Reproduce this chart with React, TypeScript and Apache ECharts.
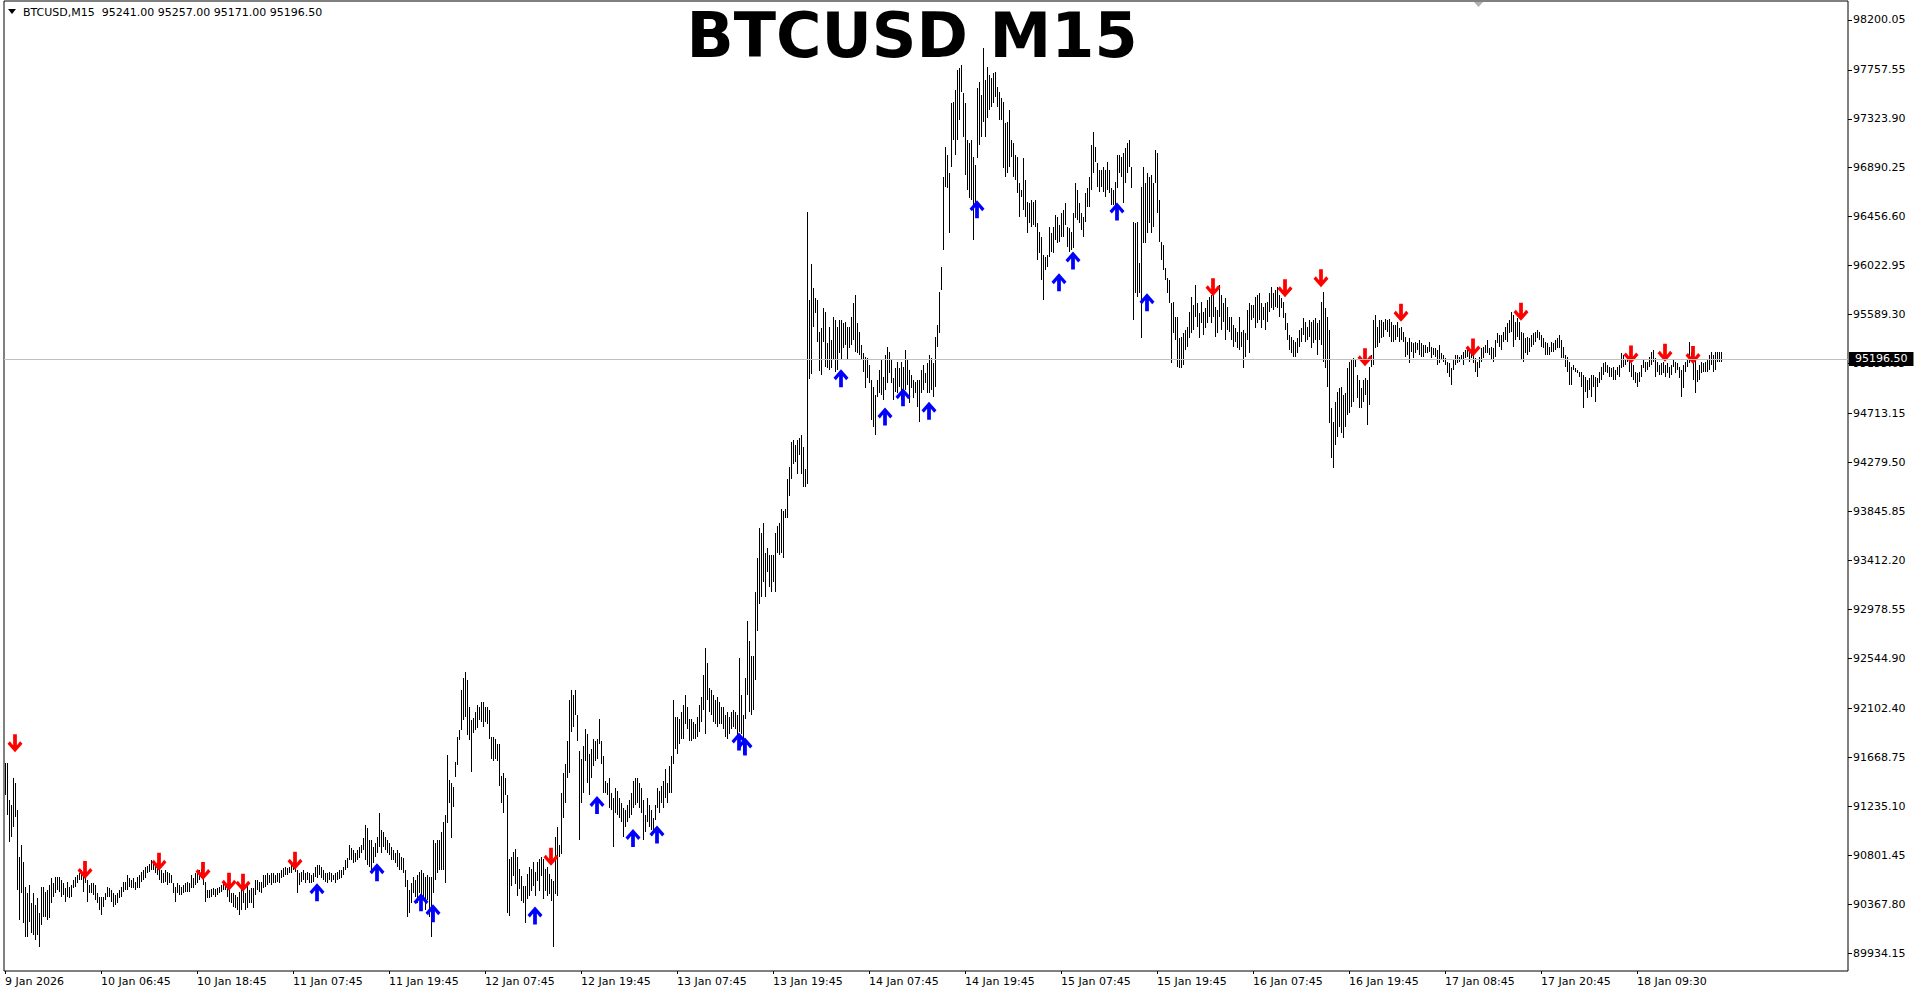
import React, { useEffect, useRef } from "react";
import * as echarts from "echarts";

const FONT = '"DejaVu Sans", sans-serif';

const symbolName = "BTCUSD";
const timeframe = "M15";
const lastBar = { open: 95241.0, high: 95257.0, low: 95171.0, close: 95196.5 };

const xTickLabels = [
  "9 Jan 2026", "10 Jan 06:45", "10 Jan 18:45", "11 Jan 07:45", "11 Jan 19:45",
  "12 Jan 07:45", "12 Jan 19:45", "13 Jan 07:45", "13 Jan 19:45", "14 Jan 07:45",
  "14 Jan 19:45", "15 Jan 07:45", "15 Jan 19:45", "16 Jan 07:45", "16 Jan 19:45",
  "17 Jan 08:45", "17 Jan 20:45", "18 Jan 09:30",
];
const barsPerLabel = 48;
const slotCount = 922;

const yTickValues = [
  98200.05, 97757.55, 97323.9, 96890.25, 96456.6, 96022.95, 95589.3, 95155.65,
  94713.15, 94279.5, 93845.85, 93412.2, 92978.55, 92544.9, 92102.4, 91668.75,
  91235.1, 90801.45, 90367.8, 89934.15,
];
const yMin = 89776;
const yMax = 98367;

// 9 Jan - 12 Jan morning
const high1 = [
  91616,91616,91291,91247,91483,91438,91202,90789,90892,90745,
  90523,90464,90538,90376,90464,90361,90420,90287,90523,90523,
  90479,90494,90538,90597,90553,90612,90612,90606,90582,90553,
  90509,90568,90523,90538,90582,90606,90627,90641,90671,90641,
  90627,90582,90538,90553,90553,90538,90464,90435,90435,90435,
  90464,90523,90509,90494,90464,90450,90464,90494,90523,90568,
  90568,90627,90597,90582,90597,90568,90612,90627,90656,90671,
  90700,90706,90724,90759,90745,90730,90736,90700,90671,90641,
  90671,90656,90641,90627,90553,90523,90553,90538,90523,90538,
  90553,90568,90553,90627,90597,90641,90641,90671,90677,90641,
  90568,90494,90494,90500,90509,90500,90509,90523,90538,90553,
  90559,90523,90509,90464,90464,90450,90435,90479,90523,90509,
  90464,90538,90494,90509,90509,90582,90582,90568,90568,90627,
  90627,90641,90627,90641,90641,90627,90641,90641,90671,90686,
  90700,90686,90700,90715,90730,90745,90671,90641,90656,90671,
  90641,90656,90641,90627,90641,90700,90715,90715,90700,90671,
  90641,90641,90656,90641,90627,90641,90656,90671,90671,90700,
  90759,90774,90892,90863,90848,90818,90848,90878,90892,90951,
  91070,91040,90937,90937,90878,90907,90966,91173,91025,91011,
  90966,90937,90907,90878,90848,90818,90848,90818,90789,90774,
  90671,90582,90494,90553,90612,90582,90627,90656,90671,90641,
  90612,90627,90612,90612,90937,90907,90937,90937,91011,91099,
  91158,91690,91468,91438,91409,91630,91852,91911,92265,92368,
  92427,92354,92118,91999,92014,92073,92132,92118,
];
const low1 = [
  91335,91158,90922,90966,91055,91143,90494,90228,90464,90199,
  90080,90080,90213,90110,90095,90051,90095,89992,90184,90258,
  90258,90228,90243,90376,90435,90464,90494,90479,90435,90450,
  90391,90435,90420,90435,90509,90523,90553,90582,90582,90479,
  90553,90391,90464,90464,90450,90405,90376,90317,90272,90346,
  90405,90435,90435,90391,90346,90361,90376,90420,90435,90479,
  90494,90494,90523,90509,90509,90494,90509,90509,90568,90582,
  90597,90641,90656,90671,90671,90641,90627,90582,90553,90553,
  90568,90538,90553,90553,90464,90391,90464,90450,90450,90464,
  90479,90479,90479,90509,90509,90538,90553,90582,90597,90538,
  90391,90420,90420,90435,90450,90435,90450,90464,90479,90494,
  90494,90435,90391,90376,90346,90332,90317,90272,90317,90376,
  90317,90332,90376,90376,90332,90450,90494,90479,90464,90509,
  90523,90538,90553,90538,90553,90553,90568,90553,90597,90612,
  90627,90627,90641,90641,90671,90656,90464,90538,90568,90582,
  90553,90582,90553,90553,90568,90612,90597,90627,90597,90582,
  90568,90559,90582,90568,90582,90553,90582,90588,90597,90627,
  90671,90686,90759,90759,90730,90745,90759,90774,90818,90848,
  90759,90715,90700,90671,90730,90789,90818,90878,90818,90878,
  90848,90818,90804,90759,90759,90730,90700,90671,90671,90641,
  90523,90258,90287,90376,90464,90435,90376,90464,90346,90435,
  90317,90405,90258,90080,90464,90582,90641,90671,90671,90671,
  90553,91084,91261,90951,91232,91497,91601,91822,91911,92000,
  92029,91867,91822,91542,91881,91911,91926,92000,
];

// 12 Jan - 14 Jan morning
const high2 = [
  92156,92156,92112,92112,92091,91852,91852,91830,91787,91787,
  91504,91526,91483,91331,90766,90788,90831,90853,90788,90679,
  90614,90527,90527,90636,90701,90679,90744,90657,90744,90766,
  90788,90766,90679,90701,90636,90592,90571,90961,91048,90896,
  91352,91526,91613,91809,92177,92264,92221,92264,92047,91722,
  91656,91765,91917,91874,91700,91743,91830,91809,91830,92004,
  91809,91678,91461,91439,91483,91352,91309,91396,91374,91309,
  91265,91222,91200,91244,91287,91352,91461,91483,91483,91439,
  91396,91287,91157,91309,91244,91200,91135,91244,91396,91374,
  91418,91461,91569,91439,91591,91678,92177,92025,92025,92004,
  92069,92134,92221,92112,92004,92004,91982,91960,92025,92134,
  92199,92394,92633,92503,92286,92264,92221,92177,92199,92156,
  92112,92112,92047,92069,92025,92069,92091,92069,92047,92546,
  92221,92047,92373,92872,92698,92568,92568,93133,93437,93697,
  93654,93740,93480,93524,93458,93458,93458,93654,93719,93740,
  93871,93849,93871,94131,94240,94457,94479,94435,94479,94500,
  94522,94413,94218,96498,95716,96042,95825,95738,95716,95434,
];
const low2 = [
  91982,91939,91982,91960,91830,91656,91635,91656,91635,91418,
  91265,91178,91331,90288,90267,90527,90614,90549,90440,90505,
  90397,90375,90201,90418,90440,90484,90527,90440,90571,90484,
  90614,90418,90484,90440,90462,90397,89985,90462,90440,90788,
  90810,91135,91265,91483,91526,91895,91939,92047,91809,90940,
  91265,91352,91635,91439,91331,91483,91591,91635,91656,91787,
  91613,91352,91352,91331,91222,91200,90875,91178,91157,91135,
  91092,90961,91048,91092,91135,91157,91222,91244,91265,91222,
  91178,90940,91005,91092,91048,91027,91005,91113,91222,91178,
  91265,91222,91309,91265,91352,91352,91613,91743,91700,91787,
  91830,91830,91960,91917,91809,91809,91830,91830,91852,91895,
  91982,92091,91874,92177,92069,92047,91982,91960,91939,91960,
  91960,91917,91852,91830,91874,91917,91939,91917,91852,91895,
  91874,91700,92004,92221,92069,92047,92091,92351,92785,93024,
  93089,93220,93089,93306,93176,93133,93220,93133,93480,93458,
  93480,93437,93784,93784,93979,94131,94262,94283,94175,94348,
  94175,94066,94066,94088,95021,95065,95477,95608,95347,95087,
];

// 14 Jan - 16 Jan morning
const high3 = [
  95469,95646,95616,95336,95483,95365,95572,95542,95483,95542,
  95542,95513,95528,95483,95483,95572,95690,95764,95513,95439,
  95321,95247,95218,95203,95144,95011,94952,94878,95011,95100,
  95188,95041,95232,95306,95262,95188,95026,95114,95173,95114,
  95173,95129,95277,95188,95100,95055,95011,94996,95011,95011,
  95100,95144,95070,95159,95232,95203,95159,95395,95498,95793,
  96015,96812,97077,97004,96841,97461,97476,97579,97756,97771,
  97801,97550,97461,97136,97107,97136,96989,96915,97594,97653,
  97535,97948,97668,97786,97712,97682,97727,97742,97609,97564,
  97505,97476,97284,97299,97402,97136,97107,97004,96989,96753,
  96694,96974,96782,96590,96576,96605,96590,96605,96398,96325,
  96280,96118,96103,96118,96369,96310,96369,96472,96457,96384,
  96487,96517,96576,96369,96354,96325,96487,96753,96694,96576,
  96487,96457,96664,96708,96812,97092,97210,97077,96930,96871,
  96871,96900,96871,96944,96871,96708,96694,96767,97004,97004,
  96989,97018,97063,97107,97136,96900,96413,96398,96413,96044,
  96723,96900,96753,96841,96812,96826,96753,97048,97018,96605,
  96236,96206,96000,95911,95897,95690,95705,95572,95572,95380,
  95395,95424,95454,95483,95616,95749,95675,95852,95690,95601,
  95705,95616,95646,95719,95749,95764,95823,95660,95631,95852,
  95764,95690,95734,95660,
];
const low3 = [
  95055,95350,95129,95114,95100,95114,95188,95085,95100,95247,
  95188,95291,95321,95188,95291,95321,95365,95262,95247,95232,
  95188,95085,94937,95026,94981,94657,94598,94524,94863,94893,
  94878,94834,94922,94981,95070,94981,94834,94908,94893,94952,
  94834,94878,94922,94967,94804,94937,94849,94893,94775,94642,
  94893,94922,94981,94893,94893,94922,94863,94952,95306,95424,
  95808,96162,96723,96708,96310,96900,97136,97004,97136,97313,
  97564,97166,96826,96694,96620,96605,96251,96546,96974,97092,
  97166,97299,97166,97328,97402,97432,97461,97520,97432,97313,
  97313,96885,96812,96841,96900,96989,96812,96782,96664,96457,
  96635,96517,96457,96310,96398,96369,96384,96369,96074,96133,
  95897,95719,95985,96015,96103,96148,96133,96251,96221,96236,
  96280,96280,96384,96192,96148,96162,96177,96443,96428,96398,
  96339,96280,96413,96546,96546,96694,96841,96944,96723,96679,
  96723,96679,96635,96694,96664,96561,96561,96546,96708,96841,
  96812,96576,96753,96841,96900,96708,95542,95778,95749,95778,
  95380,96221,96221,96310,96398,96310,96369,96753,96487,96236,
  96074,95985,95897,95778,95690,95159,95424,95365,95129,95114,
  95114,95144,95277,95306,95380,95424,95454,95572,95483,95380,
  95513,95409,95469,95513,95572,95513,95572,95395,95424,95572,
  95454,95528,95365,95454,
];

// 16 Jan - 18 Jan
const high4 = [
  95571,95571,95497,95468,95438,95571,95438,95453,95423,95630,
  95689,95674,95674,95748,95763,95778,95689,95660,95689,95704,
  95778,95837,95778,95807,95837,95763,95733,95704,95601,95512,
  95409,95394,95364,95350,95379,95453,95468,95556,95527,95482,
  95542,95527,95542,95556,95512,95542,95704,95792,95645,95571,
  95453,94759,94641,94818,94907,94936,94951,94877,94892,95113,
  95173,95187,95202,95187,95054,95010,94936,95010,95025,95010,
  95128,95232,95542,95586,95482,95542,95542,95527,95550,95542,
  95550,95527,95497,95497,95527,95468,95482,95438,95394,95350,
  95379,95350,95335,95350,95335,95364,95335,95320,95320,95305,
  95350,95305,95291,95291,95276,95320,95246,95232,95202,95173,
  95158,95113,95187,95232,95232,95217,95232,95261,95276,95305,
  95276,95276,95246,95202,95173,95217,95291,95305,95320,95364,
  95291,95305,95291,95364,95423,95409,95409,95438,95482,95512,
  95542,95615,95586,95527,95556,95527,95438,95423,95379,95394,
  95379,95409,95423,95438,95453,95438,95409,95379,95350,95335,
  95305,95350,95335,95364,95379,95409,95364,95305,95232,95217,
  95173,95128,95143,95113,95099,95084,95084,95054,95040,95010,
  95025,95054,95054,95040,95025,95084,95128,95158,95173,95143,
  95128,95113,95128,95099,95128,95143,95246,95232,95187,95232,
  95202,95158,95143,95084,95069,95084,95143,95187,95173,95173,
  95217,95261,95276,95202,95173,95143,95158,95173,95143,95158,
  95128,95143,95187,95173,95158,95128,95099,95143,95173,95187,
  95350,95261,95232,95187,95099,95143,95173,95158,95173,95187,
  95232,95261,95232,95261,95261,95261,95257,
];
const low4 = [
  95438,95364,95305,95350,95291,95276,95305,95113,95217,95364,
  95246,95542,95556,95468,95512,95542,95468,95542,95453,95527,
  95615,95645,95630,95660,95645,95571,95645,95556,95453,95364,
  95276,95246,95217,95217,95246,95305,95350,95409,95350,95364,
  95394,95291,95335,95364,95232,95364,95320,95173,95113,94951,
  94626,94316,94228,94435,94508,94597,94538,94494,94597,94700,
  94715,94774,94818,95128,94848,94759,94759,94818,94877,94612,
  94789,95128,95143,95291,95305,95335,95379,95394,95453,95438,
  95394,95350,95350,95364,95394,95350,95364,95350,95217,95232,
  95158,95261,95202,95246,95276,95232,95217,95217,95246,95246,
  95261,95202,95232,95217,95143,95158,95187,95173,95143,95069,
  95040,94966,95099,95143,95158,95173,95187,95143,95202,95217,
  95173,95202,95158,95084,95040,95113,95173,95202,95246,95246,
  95232,95187,95173,95217,95335,95305,95276,95350,95364,95350,
  95423,95438,95305,95364,95394,95364,95187,95173,95246,95232,
  95261,95305,95320,95350,95379,95364,95305,95291,95232,95232,
  95232,95261,95261,95276,95291,95291,95202,95202,95128,95084,
  94966,94966,95099,95084,95069,95040,94951,94759,94907,94848,
  94922,94863,94951,94818,94951,94981,95010,95054,95084,95069,
  95040,95040,95010,95010,95054,95040,95113,95128,95143,95173,
  95084,95040,95010,94981,94951,94995,95040,95113,95084,95099,
  95128,95143,95173,95040,95084,95054,95054,95069,95040,95069,
  95025,95054,95128,95069,95099,95025,94863,94936,95084,95128,
  95158,95187,95010,94892,94995,95010,95069,95084,95084,95084,
  95099,95143,95084,95099,95173,95173,95171,
];

// fractal-style signal arrows: [bar index, price]
const sellArrows = [
  [5, 91793], [40, 90671], [77, 90744], [99, 90662], [112, 90567], [119, 90558],
  [145, 90753], [273, 90788], [604, 95832], [640, 95822], [658, 95911], [680, 95211],
  [698, 95606], [734, 95299], [758, 95615], [813, 95237], [830, 95252], [844, 95232],
];
const buyArrows = [
  [156, 90473], [186, 90650], [208, 90384], [214, 90287], [265, 90268], [296, 91246],
  [314, 90954], [326, 90984], [367, 91809], [370, 91765], [418, 95026], [440, 94686],
  [449, 94858], [462, 94739], [486, 96522], [527, 95876], [534, 96068], [556, 96502],
  [571, 95699],
];

const downArrow = "path://M6,0L10,0L10,11L13.5,7L16,9.5L8,18L0,9.5L2.5,7L6,11Z";
const upArrow = "path://M6,18L10,18L10,7L13.5,11L16,8.5L8,0L0,8.5L2.5,11L6,7Z";

export default function App() {
  const ref = useRef<HTMLDivElement>(null);

  useEffect(() => {
    if (!ref.current) return;
    const chart = echarts.init(ref.current, null, { renderer: "svg" });

    const highs = [...high1, ...high2, ...high3, ...high4];
    const lows = [...low1, ...low2, ...low3, ...low4];
    const bars = highs.map((h, i) => [i, lows[i], h]);
    const slots = Array.from({ length: slotCount }, (_, i) => String(i));

    const showTick = (idx: number) =>
      idx % barsPerLabel === 0 && idx / barsPerLabel < xTickLabels.length;

    const fmt = (v: number) => v.toFixed(2);
    const header = `${symbolName},${timeframe}  ${fmt(lastBar.open)} ${fmt(lastBar.high)} ${fmt(lastBar.low)} ${fmt(lastBar.close)}`;

    chart.setOption({
      animation: false,
      backgroundColor: "#ffffff",
      grid: {
        left: 4,
        right: 71,
        top: 1,
        bottom: 23,
        show: true,
        borderColor: "#000000",
        borderWidth: 1,
        backgroundColor: "#ffffff",
      },
      xAxis: {
        type: "category",
        data: slots,
        boundaryGap: true,
        axisLine: { show: false },
        axisTick: {
          show: true,
          alignWithLabel: true,
          length: 3,
          interval: (idx: number) => showTick(idx),
          lineStyle: { color: "#000000" },
        },
        axisLabel: {
          interval: (idx: number) => showTick(idx),
          formatter: (_v: string, idx: number) =>
            showTick(idx) ? xTickLabels[idx / barsPerLabel] : "",
          align: "left",
          margin: 5,
          color: "#000000",
          fontFamily: FONT,
          fontSize: 11,
        },
        splitLine: { show: false },
      },
      yAxis: {
        type: "value",
        position: "right",
        min: yMin,
        max: yMax,
        scale: true,
        axisLine: { show: false },
        splitLine: { show: false },
        axisTick: {
          show: true,
          customValues: yTickValues,
          length: 4,
          lineStyle: { color: "#000000" },
        },
        axisLabel: {
          customValues: yTickValues,
          formatter: (v: number) => v.toFixed(2),
          margin: 5,
          color: "#000000",
          fontFamily: FONT,
          fontSize: 11,
        },
      },
      graphic: [
        {
          type: "polygon",
          shape: { points: [[8, 9], [16, 9], [12, 14]] },
          style: { fill: "#000000" },
          silent: true,
        },
        {
          type: "text",
          x: 23,
          y: 12,
          style: {
            text: header,
            fill: "#000000",
            font: `11px ${FONT}`,
            textVerticalAlign: "middle",
          },
          silent: true,
        },
        {
          type: "text",
          x: 912,
          y: 35,
          style: {
            text: `${symbolName} ${timeframe}`,
            fill: "#000000",
            font: `bold 62px ${FONT}`,
            lineHeight: 62,
            textAlign: "center",
            textVerticalAlign: "middle",
          },
          silent: true,
        },
        {
          type: "polygon",
          shape: { points: [[1474, 2], [1483, 2], [1478.5, 7]] },
          style: { fill: "#b0b0b0" },
          silent: true,
        },
      ],
      series: [
        {
          type: "custom",
          name: "bars",
          data: bars,
          encode: { x: 0, y: [1, 2] },
          clip: true,
          renderItem: (_params: any, api: any) => {
            const lo = api.coord([api.value(0), api.value(1)]);
            const hi = api.coord([api.value(0), api.value(2)]);
            const px = Math.round(lo[0]) + 0.5;
            let y1 = Math.round(lo[1]);
            let y2 = Math.round(hi[1]);
            if (y1 - y2 < 1) y2 = y1 - 1;
            return {
              type: "line",
              shape: { x1: px, y1, x2: px, y2 },
              style: { stroke: "#000000", lineWidth: 1 },
            };
          },
          markLine: {
            silent: true,
            symbol: "none",
            data: [{ yAxis: lastBar.close }],
            lineStyle: { color: "#c0c0c0", width: 1, type: "solid" },
            label: {
              show: true,
              position: "end",
              distance: 1,
              formatter: () => fmt(lastBar.close),
              backgroundColor: "#000000",
              color: "#ffffff",
              padding: [2, 6, 1, 6],
              fontFamily: FONT,
              fontSize: 11,
            },
            emphasis: { disabled: true },
          },
          z: 2,
        },
        {
          type: "scatter",
          name: "sell",
          data: sellArrows,
          symbol: downArrow,
          symbolSize: [15, 18],
          itemStyle: { color: "#ff0000", opacity: 1 },
          z: 3,
          silent: true,
        },
        {
          type: "scatter",
          name: "buy",
          data: buyArrows,
          symbol: upArrow,
          symbolSize: [15, 18],
          itemStyle: { color: "#0000ff", opacity: 1 },
          z: 3,
          silent: true,
        },
      ],
    });

    return () => chart.dispose();
  }, []);

  return (
    <div
      ref={ref}
      style={{
        position: "fixed",
        left: 0,
        top: 0,
        width: 1919,
        height: 994,
        background: "#ffffff",
      }}
    />
  );
}
